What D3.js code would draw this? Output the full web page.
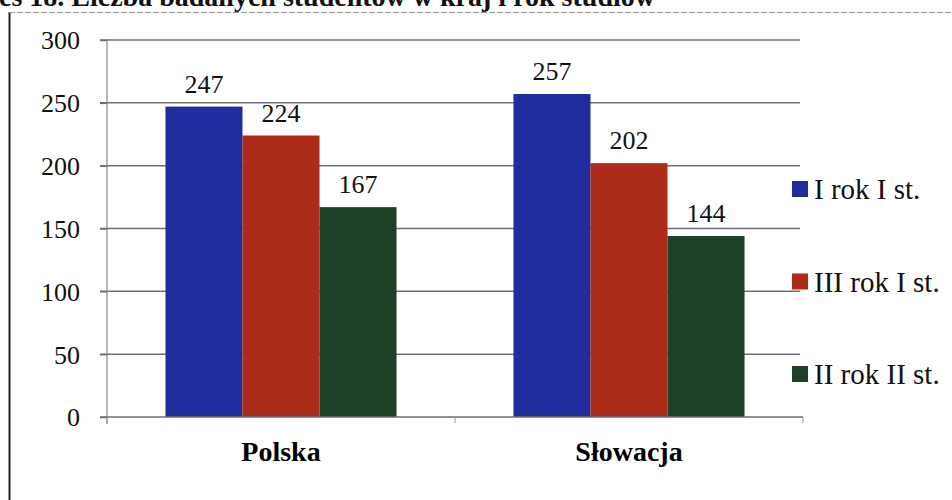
<!DOCTYPE html>
<html><head><meta charset="utf-8">
<script src="https://cdn.jsdelivr.net/npm/d3@7"></script>
<style>html,body{margin:0;padding:0;background:#fff;}svg{display:block;}</style>
</head><body>
<svg id="c" width="952" height="500"></svg>
<script>
const categories = ["Polska", "Słowacja"];
const series = ["I rok I st.", "III rok I st.", "II rok II st."];
const values = [
  [247, 224, 167],
  [257, 202, 144]
];
const yTicks = [0, 50, 100, 150, 200, 250, 300];
const colors = ["#202c9c", "#ad2b19", "#1d4027"];
const title = "Wykres 18. Liczba badanych studentów w kraj i rok studiów";

const svg = d3.select("#c");
const font = "'Liberation Serif','Times New Roman',serif";

// frame
svg.append("line").attr("x1",9.5).attr("x2",9.5).attr("y1",12).attr("y2",500).attr("stroke","#222").attr("stroke-width",2);
svg.append("line").attr("x1",9).attr("x2",952).attr("y1",12.5).attr("y2",12.5).attr("stroke","#999").attr("stroke-width",1.2).attr("stroke-dasharray","6,2");

// title (cut off at top, as in the scan)
svg.append("text").attr("x",655).attr("y",6).attr("text-anchor","end")
  .attr("font-family",font).attr("font-weight","bold").attr("font-size",28).attr("fill","#111").text(title);

const x0 = 107, x1 = 803;
const y = d3.scaleLinear().domain([0,300]).range([417,40]);
const x = d3.scaleBand().domain(categories).range([x0,x1]).paddingInner(0.336).paddingOuter(0.168);
const xs = d3.scaleBand().domain(series).range([0,x.bandwidth()]);

// gridlines
svg.append("g").selectAll("line").data(yTicks.slice(1)).join("line")
  .attr("x1",100).attr("x2",800).attr("y1",d=>y(d)).attr("y2",d=>y(d))
  .attr("stroke","#6e6e78").attr("stroke-width",1.5);

// y axis
const ya = svg.append("g").attr("transform",`translate(${x0},0)`)
  .call(d3.axisLeft(y).tickValues(yTicks).tickSize(7).tickPadding(20));
ya.attr("font-family",font);
ya.select(".domain").attr("stroke","#888").attr("stroke-width",1.2).attr("d",`M-0,40V424`);
ya.selectAll(".tick line").attr("stroke","#6e6e78").attr("stroke-width",1.5);
ya.selectAll(".tick text").attr("font-family",font).attr("font-size",26).attr("fill","#111").attr("dy","0.34em");

// bars
const g = svg.append("g").selectAll("g").data(categories).join("g")
  .attr("transform",d=>`translate(${x(d)},0)`);
g.selectAll("rect").data((d,i)=>values[i].map((v,j)=>({v,s:series[j],j}))).join("rect")
  .attr("x",d=>xs(d.s)).attr("width",xs.bandwidth()).attr("y",d=>y(d.v)).attr("height",d=>y(0)-y(d.v))
  .attr("fill",d=>colors[d.j]);
g.selectAll("text").data((d,i)=>values[i].map((v,j)=>({v,s:series[j],j}))).join("text")
  .attr("x",d=>xs(d.s)+xs.bandwidth()/2).attr("y",d=>y(d.v)-14).attr("text-anchor","middle")
  .attr("font-family",font).attr("font-size",26).attr("fill","#111").text(d=>d.v);

// x axis baseline and ticks
svg.append("line").attr("x1",100).attr("x2",x1).attr("y1",y(0)).attr("y2",y(0)).attr("stroke","#6e6e78").attr("stroke-width",1.5);
svg.append("g").selectAll("line").data([x0, x(categories[1]) - x.step()*x.paddingInner()/2, x1]).join("line")
  .attr("x1",d=>d).attr("x2",d=>d).attr("y1",y(0)).attr("y2",y(0)+6).attr("stroke","#999").attr("stroke-width",1);
svg.append("g").selectAll("text").data(categories).join("text")
  .attr("x",d=>x(d)+x.bandwidth()/2).attr("y",461).attr("text-anchor","middle")
  .attr("font-family",font).attr("font-weight","bold").attr("font-size",28).attr("fill","#000").text(d=>d);

// legend
const lg = svg.append("g").selectAll("g").data(series).join("g")
  .attr("transform",(d,i)=>`translate(792,${189+i*92.5})`);
lg.append("rect").attr("x",0).attr("y",-8).attr("width",16).attr("height",16).attr("fill",(d,i)=>colors[i]);
lg.append("text").attr("x",22).attr("y",0).attr("dy","0.35em").attr("font-family",font).attr("font-size",29).attr("fill","#111").text(d=>d);
</script>
</body></html>
